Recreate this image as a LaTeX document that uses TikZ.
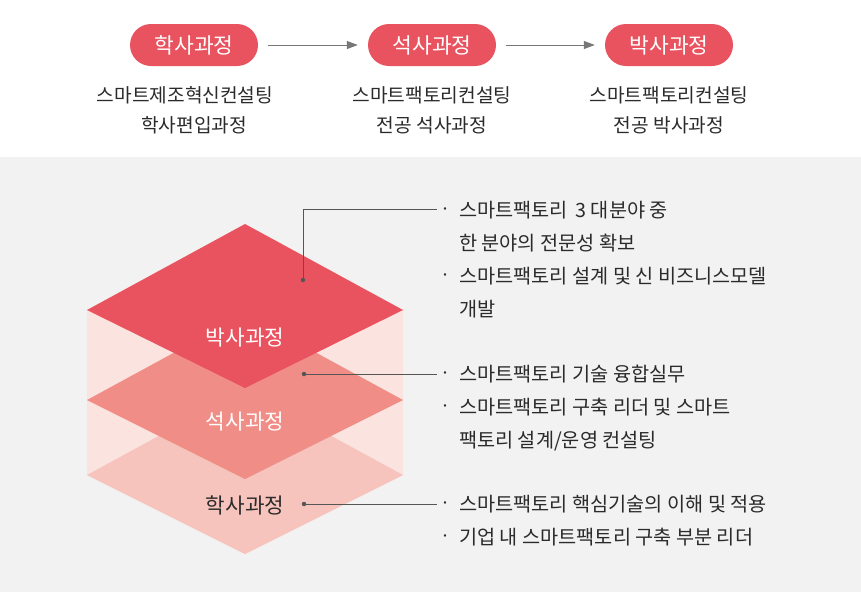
\documentclass[tikz,border=0pt]{standalone}
\usepackage{fontspec}
\setmainfont{Noto Sans CJK KR}
\usetikzlibrary{arrows.meta}
\definecolor{bggray}{HTML}{F2F2F2}
\definecolor{redtop}{HTML}{E9535F}
\definecolor{redmid}{HTML}{F08D87}
\definecolor{redlow}{HTML}{F7C3BD}
\definecolor{pinkhull}{HTML}{FBE3DF}
\definecolor{txt}{HTML}{2B2B2B}
\definecolor{linegray}{HTML}{555555}
\definecolor{arrgray}{HTML}{777777}
\begin{document}
\begin{tikzpicture}[x=1pt,y=-1pt,
  pill/.style={fill=redtop, rounded corners=21pt, minimum width=128pt, minimum height=42pt,
    text=white, font=\fontsize{21.5}{21.5}\selectfont, text height=17.8pt, text depth=1.5pt, inner sep=0pt},
  arr/.style={draw=arrgray, line width=1pt, -{Triangle[length=11pt,width=8pt]}},
  sub/.style={text=txt, font=\fontsize{19.2}{19.2}\selectfont, text height=15.9pt, text depth=1.3pt, inner sep=0pt},
  layerlabel/.style={font=\fontsize{21.3}{21.3}\selectfont, text height=17.7pt, text depth=1.5pt, inner sep=0pt},
  body/.style={text=txt, font=\fontsize{19.7}{19.7}\selectfont, text height=16.4pt, text depth=1.4pt, inner sep=0pt, anchor=west},
  bul/.style={text=txt, font=\fontsize{18}{18}\selectfont, text height=16.4pt, text depth=1.4pt, inner sep=0pt},
  conn/.style={draw=linegray, line width=0.9pt},
  dot/.style={circle, fill=linegray, inner sep=0pt, minimum size=4.5pt}
]
\useasboundingbox (0,0) rectangle (861,592);
\fill[white] (0,0) rectangle (861,157);
\fill[bggray] (0,157) rectangle (861,592);

% top flow
\node[pill] (p1) at (194,45) {학사과정};
\node[pill] (p2) at (432,45) {석사과정};
\node[pill] (p3) at (669,45) {박사과정};
\draw[arr, shorten <=10pt, shorten >=10pt] (p1) -- (p2);
\draw[arr, shorten <=10pt, shorten >=10pt] (p2) -- (p3);

\node[sub] (s1a) at (185,95) {스마트제조혁신컨설팅};
\node[sub] (s1b) at (194,125) {학사편입과정};
\node[sub] (s2a) at (432,95) {스마트팩토리컨설팅};
\node[sub] (s2b) at (432,125) {전공 석사과정};
\node[sub] (s3a) at (669,95) {스마트팩토리컨설팅};
\node[sub] (s3b) at (669,125) {전공 박사과정};

% stack
\fill[pinkhull] (87,310) -- (245,224) -- (403,310) -- (403,475) -- (245,554) -- (87,475) -- cycle;
\fill[redlow] (245,389) -- (403,475) -- (245,554) -- (87,475) -- cycle;
\fill[redmid] (245,314) -- (403,400) -- (245,479) -- (87,400) -- cycle;
\fill[redtop] (245,224) -- (403,310) -- (245,388) -- (87,310) -- cycle;

\node[layerlabel, text=white] (l3) at (245,337) {박사과정};
\node[layerlabel, text=white] (l2) at (245,421) {석사과정};
\node[layerlabel, text=txt] (l1) at (245,505) {학사과정};

% connectors
\node[dot] (d1) at (303,280) {};
\node[dot] (d2) at (304,374) {};
\node[dot] (d3) at (304,504) {};
\coordinate (e1) at (437,209);
\coordinate (e2) at (437,374);
\coordinate (e3) at (437,504);
\draw[conn] (d1.center) |- (e1);
\draw[conn] (d2.center) -- (e2);
\draw[conn] (d3.center) -- (e3);

% block 1
\node[bul] (b1) at (446,208) {·};
\node[body] (t1) at (459,210) {스마트팩토리 \,3 대분야 중};
\node[body] (t2) at (459,243) {한 분야의 전문성 확보};
\node[bul] (b2) at (446,274) {·};
\node[body] (t3) at (459,276) {스마트팩토리 설계 및 신 비즈니스모델};
\node[body] (t4) at (459,309) {개발};

% block 2
\node[bul] (b3) at (446,372) {·};
\node[body] (t5) at (459,374) {스마트팩토리 기술 융합실무};
\node[bul] (b4) at (446,405) {·};
\node[body] (t6) at (459,407) {스마트팩토리 구축 리더 및 스마트};
\node[body] (t7) at (459,440) {팩토리 설계/운영 컨설팅};

% block 3
\node[bul] (b5) at (446,502) {·};
\node[body] (t8) at (459,504) {스마트팩토리 핵심기술의 이해 및 적용};
\node[bul] (b6) at (446,535) {·};
\node[body] (t9) at (459,537) {기업 내 스마트팩토리 구축 부분 리더};
\end{tikzpicture}
\end{document}
